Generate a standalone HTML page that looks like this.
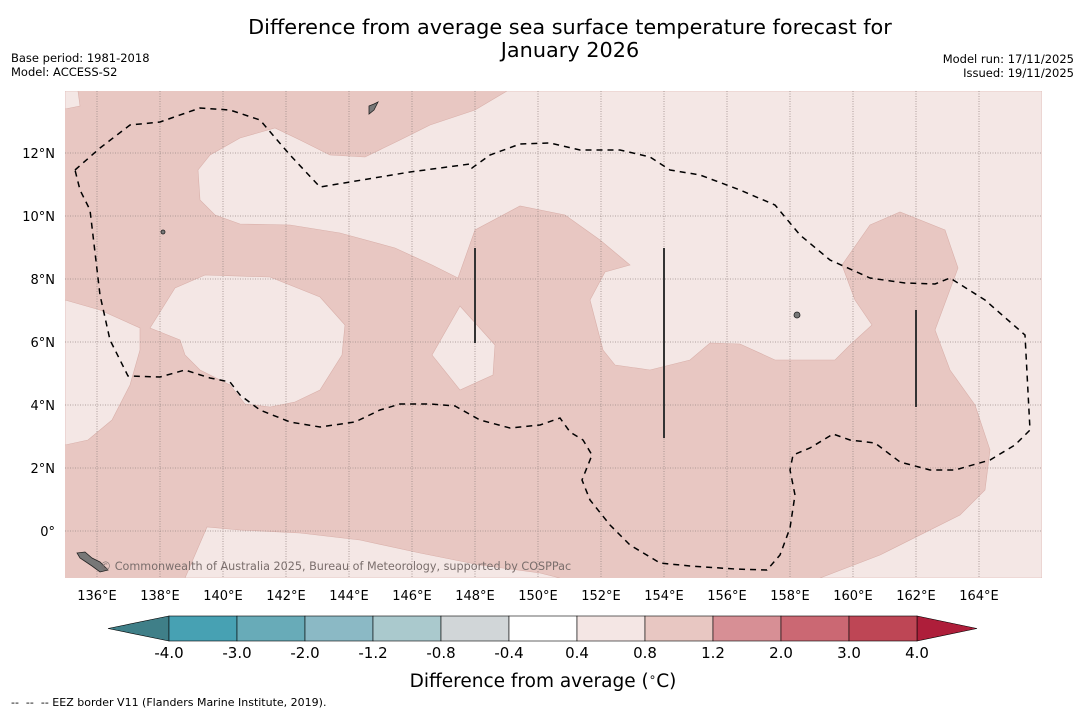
<!DOCTYPE html>
<html><head><meta charset="utf-8">
<style>
body{margin:0;background:#fff;width:1085px;height:713px;overflow:hidden;font-family:"DejaVu Sans","Liberation Sans",sans-serif;}
svg text{font-family:"DejaVu Sans","Liberation Sans",sans-serif;}
</style></head>
<body>
<svg id="chart" width="1085" height="713" xmlns="http://www.w3.org/2000/svg">
<text x="570" y="34" font-size="20.8" text-anchor="middle">Difference from average sea surface temperature forecast for</text>
<text x="570" y="57" font-size="20.8" text-anchor="middle">January 2026</text>
<text x="11" y="62" font-size="11.5">Base period: 1981-2018</text>
<text x="11" y="76" font-size="11.5">Model: ACCESS-S2</text>
<text x="1074" y="63" font-size="11.5" text-anchor="end">Model run: 17/11/2025</text>
<text x="1074" y="77" font-size="11.5" text-anchor="end">Issued: 19/11/2025</text>
<defs><clipPath id="mc"><rect x="65" y="91" width="977" height="487"/></clipPath></defs>
<g clip-path="url(#mc)">
<rect x="65" y="91" width="977" height="487" fill="#e8c7c2"/>
<g fill="#f4e7e5" stroke="#d9b0aa" stroke-width="0.6">
<polygon points="507,91 1042,91 1042,578 820,578 880,555 960,515 985,490 990,450 975,405 950,370 935,330 958,268 945,230 900,212 870,225 842,265 855,300 872,325 850,345 835,360 775,360 740,344 710,343 690,360 650,370 615,365 603,350 590,300 605,272 630,265 600,240 565,215 520,206 475,230 458,278 432,265 395,248 340,233 290,225 240,224 215,215 200,200 198,170 210,155 240,138 275,128 300,140 330,155 365,157 400,140 430,125 475,110"/>
<polygon points="65,91 78,91 80,106 65,109"/>
<polygon points="65,300 100,310 140,328 140,350 130,385 112,420 88,440 65,445"/>
<polygon points="150,328 175,288 205,275 270,277 320,297 345,325 342,355 320,390 295,402 270,407 245,404 230,385 200,370 185,355 180,340"/>
<polygon points="432,355 460,306 495,345 493,375 460,390"/>
<polygon points="185,578 207,527 240,530 300,533 360,540 420,553 480,565 540,573 560,578"/>
</g>
<g id="grid" stroke="#9a8a88" stroke-width="0.8" stroke-dasharray="1,1.5"></g>
<polyline fill="none" stroke="#000" stroke-width="1.5" stroke-dasharray="6,5" points="75,170 100,148 130,125 160,122 200,108 230,110 260,120 290,155 320,187 350,182 410,172 470,164 472,168 490,155 520,144 550,143 580,150 620,150 650,157 670,170 700,175 740,190 775,205 800,235 830,260 870,278 905,283 935,284 950,278 985,300 1025,335 1030,430 1015,445 990,460 955,470 930,470 900,462 875,443 850,440 833,434 810,448 793,455 790,470 795,495 790,528 780,555 767,570 735,569 690,566 660,563 630,545 610,525 590,500 582,480 592,455 583,440 570,432 560,418 540,425 510,428 480,420 455,406 430,404 400,404 380,410 355,422 320,427 290,422 260,410 240,395 230,382 210,378 185,370 160,377 128,376 110,340 100,295 90,210 80,190 75,170"/>
<g stroke="#333" stroke-width="2">
<line x1="475" y1="248" x2="475" y2="343"/>
<line x1="664" y1="248" x2="664" y2="438"/>
<line x1="916" y1="310" x2="916" y2="407"/>
</g>
<g fill="#777" stroke="#222" stroke-width="0.8">
<polygon points="77,553 85,552 92,558 100,562 108,570 100,572 92,566 80,558"/>
<polygon points="369,106 374,104 378,102 374,110 369,114"/>
<circle cx="797" cy="315" r="3"/>
<circle cx="163" cy="232" r="2"/>
</g>
<text x="100" y="570" font-size="11.2" fill="#7a6e6c">© Commonwealth of Australia 2025, Bureau of Meteorology, supported by COSPPac</text>
</g>
<g id="axes"></g>
<g id="cbar"></g>
<text x="543" y="687" font-size="18.5" text-anchor="middle">Difference from average (<tspan font-size="12" dy="-6">∘</tspan><tspan dy="6">C)</tspan></text>
<text x="11" y="706" font-size="11" xml:space="preserve">--  --  -- EEZ border V11 (Flanders Marine Institute, 2019).</text>
</svg>
<script>
const lonTicks=[136,138,140,142,144,146,148,150,152,154,156,158,160,162,164];
const latTicks=[0,2,4,6,8,10,12];
const cbLevels=[-4.0,-3.0,-2.0,-1.2,-0.8,-0.4,0.4,0.8,1.2,2.0,3.0,4.0];
const cbColors=["#47a1b3","#68abb8","#8bb9c5","#aac9cd","#d1d6d8","#ffffff","#f4e6e4","#e8c7c2","#d78f95","#cb6873","#be4655"];
const cbUnder="#3f7f88", cbOver="#ae1e3a";
const NS="http://www.w3.org/2000/svg";
const xLon=l=>65.5+(l-135)*31.5, yLat=l=>531-l*31.5;
function mk(t,a,p){const e=document.createElementNS(NS,t);for(const k in a)e.setAttribute(k,a[k]);p.appendChild(e);return e;}
const grid=document.getElementById('grid'),axes=document.getElementById('axes'),cb=document.getElementById('cbar');
lonTicks.forEach(l=>{
 const g=mk('line',{x1:xLon(l),x2:xLon(l),y1:91,y2:578},grid);
 
 
 const t=mk('text',{x:xLon(l),y:600,'font-size':13,'text-anchor':'middle'},axes);
 t.textContent=l+'°E';
 
 
});
latTicks.forEach(l=>{
 const g=mk('line',{x1:65,x2:1042,y1:yLat(l),y2:yLat(l)},grid);
 
 
 const t=mk('text',{x:55,y:yLat(l)+5,'font-size':13,'text-anchor':'end'},axes);
 t.textContent=l===0?'0°':l+'°N';
 
 
});
const cx0=169,cx1=917,cy=616,ch=25,step=(cx1-cx0)/(cbLevels.length-1);
const under=mk('polygon',{points:`${cx0},${cy} ${cx0},${cy+ch} 108,${cy+ch/2}`,fill:cbUnder,stroke:'#000','stroke-width':0.6},cb);


const over=mk('polygon',{points:`${cx1},${cy} ${cx1},${cy+ch} 977,${cy+ch/2}`,fill:cbOver,stroke:'#000','stroke-width':0.6},cb);


cbColors.forEach((c,i)=>{
 const r=mk('rect',{x:cx0+i*step,y:cy,width:step,height:ch,fill:c,stroke:'#000','stroke-width':0.6},cb);
 
 
});
cbLevels.forEach((v,i)=>{
 const t=mk('text',{x:cx0+i*step,y:658,'font-size':15,'text-anchor':'middle'},cb);
 t.textContent=v.toFixed(1);
 
 
});
</script>
</body></html>
